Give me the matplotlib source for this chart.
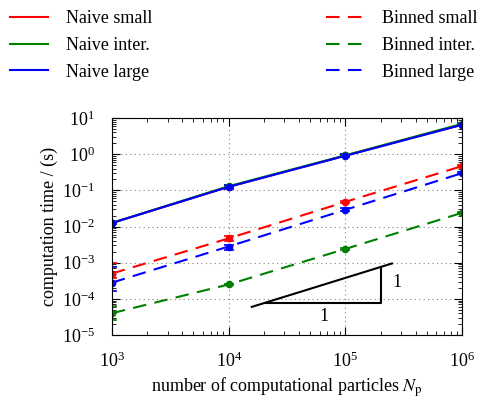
import numpy as np
import matplotlib
matplotlib.use("Agg")
import matplotlib.pyplot as plt
from matplotlib.ticker import LogLocator, NullFormatter

plt.rcParams['font.family'] = ['Liberation Serif', 'DejaVu Serif']
plt.rcParams['mathtext.fontset'] = 'stix'
plt.rcParams['font.size'] = 13

# Data
N = [1e3, 1e4, 1e5, 1e6]
naive_small = [0.0125, 0.125, 0.92, 6.6]
naive_inter = [0.0125, 0.13, 0.93, 6.9]
naive_large = [0.0125, 0.125, 0.90, 6.5]
binned_small = [5.0e-4, 4.7e-3, 0.048, 0.47]
binned_inter = [4.0e-5, 2.5e-4, 2.4e-3, 0.024]
binned_large = [2.8e-4, 2.8e-3, 0.029, 0.30]

# asymmetric error bars (lower, upper)
naive_small_err = [[0.001, 0.01, 0.05, 0.2], [0.001, 0.01, 0.05, 0.2]]
naive_inter_err = [[0.001, 0.01, 0.05, 0.2], [0.001, 0.01, 0.05, 0.2]]
naive_large_err = [[0.001, 0.015, 0.08, 0.3], [0.001, 0.015, 0.08, 0.3]]
binned_small_err = [[1.2e-4, 6e-4, 3e-3, 0.02], [5.0e-4, 6e-4, 3e-3, 0.02]]
binned_inter_err = [[1.4e-5, 1.5e-5, 1.5e-4, 1e-3], [2.5e-5, 1.5e-5, 1.5e-4, 1e-3]]
binned_large_err = [[1.1e-4, 6e-4, 2.5e-3, 0.015], [4.9e-4, 3e-4, 2.5e-3, 0.015]]

# slope triangle
tri_hyp_x = [1.58e4, 2.5e5]
tri_hyp_y = [6.0e-5, 9.5e-4]
tri_x = [2.05e4, 2.0e5, 2.0e5]
tri_y = [7.8e-5, 7.8e-5, 7.6e-4]
lbl_h = (6.5e4, 3.3e-5)
lbl_v = (2.75e5, 2.8e-4)

fig = plt.figure(figsize=(4.78, 3.96), dpi=100)
ax = fig.add_axes([0.234, 0.154, 0.733, 0.548])

dash = (6.5, 4.0)
series = [
    (naive_small, naive_small_err, 'red', '-', 'Naive small'),
    (naive_inter, naive_inter_err, 'green', '-', 'Naive inter.'),
    (naive_large, naive_large_err, 'blue', '-', 'Naive large'),
    (binned_small, binned_small_err, 'red', '--', 'Binned small'),
    (binned_inter, binned_inter_err, 'green', '--', 'Binned inter.'),
    (binned_large, binned_large_err, 'blue', '--', 'Binned large'),
]
handles = []
for vals, err, c, ls, lab in series:
    eb = ax.errorbar(N, vals, yerr=err, color=c, marker='o', markersize=4.5,
                     lw=1.5, capsize=3.5, elinewidth=1.2, capthick=1.2,
                     clip_on=True)
    line = eb[0]
    if ls == '--':
        line.set_dashes(dash)
    h, = ax.plot([], [], color=c, lw=1.5, label=lab)
    if ls == '--':
        h.set_dashes(dash)
    handles.append(h)

ax.plot(tri_hyp_x, tri_hyp_y, color='black', lw=1.5)
ax.plot(tri_x, tri_y, color='black', lw=1.5)
ax.text(*lbl_h, '1', ha='center', va='center', fontsize=13)
ax.text(*lbl_v, '1', ha='center', va='center', fontsize=13)

ax.set_xscale('log')
ax.set_yscale('log')
ax.set_xlim(1e3, 1e6)
ax.set_ylim(1e-5, 1e1)
ax.yaxis.set_major_locator(LogLocator(base=10, numticks=20))
ax.yaxis.set_minor_locator(LogLocator(base=10, subs=np.arange(2, 10), numticks=20))
ax.yaxis.set_minor_formatter(NullFormatter())
ax.tick_params(which='both', direction='in', top=True, right=True)
ax.tick_params(which='major', length=6, width=0.8)
ax.tick_params(which='minor', length=3, width=0.6)
ax.tick_params(axis='x', which='major', pad=12)
ax.tick_params(axis='y', which='major', pad=12)
ax.grid(True, which='major', color='gray', linestyle=(0, (1, 3)), lw=0.8)
ax.set_xlabel(r'number of computational particles $N_\mathrm{p}$', labelpad=3)
ax.set_ylabel('computation time / (s)', labelpad=3)

fig.legend(handles=handles, ncol=2, loc='upper left',
           bbox_to_anchor=(0.021, 0.975), frameon=False,
           handlelength=2.1, handletextpad=1.0, columnspacing=9.6,
           labelspacing=0.55, borderpad=0, borderaxespad=0)

fig.savefig('out.png', dpi=100)
